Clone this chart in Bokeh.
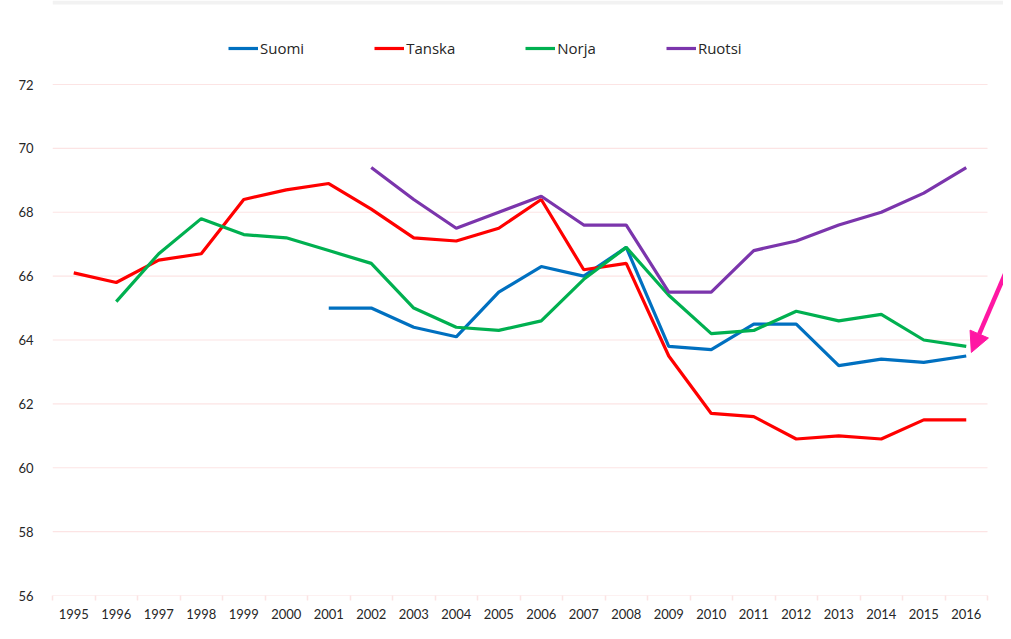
from bokeh.plotting import figure
from bokeh.models import (Legend, LegendItem, FixedTicker, Range1d, Arrow,
                          NormalHead, BoxAnnotation)
from bokeh.embed import file_html
from bokeh.resources import INLINE

nan = float("nan")

years = list(range(1995, 2017))
suomi = [nan] * 6 + [65.0, 65.0, 64.4, 64.1, 65.5, 66.3, 66.0, 66.9, 63.8, 63.7,
                     64.5, 64.5, 63.2, 63.4, 63.3, 63.5]
tanska = [66.1, 65.8, 66.5, 66.7, 68.4, 68.7, 68.9, 68.1, 67.2, 67.1, 67.5,
          68.4, 66.2, 66.4, 63.5, 61.7, 61.6, 60.9, 61.0, 60.9, 61.5, 61.5]
norja = [nan] + [65.2, 66.7, 67.8, 67.3, 67.2, 66.8, 66.4, 65.0, 64.4, 64.3,
                 64.6, 65.9, 66.9, 65.4, 64.2, 64.3, 64.9, 64.6, 64.8, 64.0, 63.8]
ruotsi = [nan] * 7 + [69.4, 68.4, 67.5, 68.0, 68.5, 67.6, 67.6, 65.5, 65.5,
                      66.8, 67.1, 67.6, 68.0, 68.6, 69.4]
y_ticks = [56, 58, 60, 62, 64, 66, 68, 70, 72]

series = [("Suomi", suomi, "#0070C0"), ("Tanska", tanska, "#FF0000"),
          ("Norja", norja, "#00B050"), ("Ruotsi", ruotsi, "#7B35AC")]

PINK = "#FF17A3"
GRID = "#FCE4E4"
TEXT = "#262626"

W, H = 1003, 631
LEFT, BOTTOM = 52, 595          # frame left / x-axis pixel position
Y_TOP_PX = 84                   # pixel of the top tick (72)
px_per_unit = (BOTTOM - Y_TOP_PX) / (y_ticks[-1] - y_ticks[0])
px_per_year = 42.5
x0 = years[0] - 0.5
x1 = years[-1] + 0.5
y_top = y_ticks[-1] + Y_TOP_PX / px_per_unit
x_right = x0 + (W - LEFT) / px_per_year

p = figure(width=W, height=H, output_backend="svg", toolbar_location=None,
           x_range=Range1d(x0, x_right),
           y_range=Range1d(y_ticks[0], y_top),
           min_border_left=LEFT, min_border_right=0, min_border_top=0,
           min_border_bottom=H - BOTTOM)
p.outline_line_color = None
p.background_fill_color = "white"
p.border_fill_color = "white"

# y axis
p.yaxis.ticker = FixedTicker(ticks=y_ticks)
p.yaxis.axis_line_color = None
p.yaxis.major_tick_line_color = None
p.yaxis.minor_tick_line_color = None
p.yaxis.major_label_standoff = 13
p.yaxis.major_label_text_font = "Lato"
p.yaxis.major_label_text_font_size = "13px"
p.yaxis.major_label_text_color = TEXT

# x axis: labels at year centres, small ticks at boundaries
p.xaxis.ticker = FixedTicker(ticks=years, minor_ticks=[y - 0.5 for y in years] + [x1])
p.xaxis.major_label_overrides = {y: str(y) for y in years}
p.xaxis.axis_line_color = None
p.xaxis.major_tick_line_color = None
p.xaxis.minor_tick_line_color = GRID
p.xaxis.minor_tick_line_width = 1.5
p.xaxis.minor_tick_out = 5
p.xaxis.minor_tick_in = 0
p.xaxis.major_label_standoff = 7
p.xaxis.major_label_text_font = "Lato"
p.xaxis.major_label_text_font_size = "13px"
p.xaxis.major_label_text_color = TEXT

p.xgrid.grid_line_color = None
p.ygrid.grid_line_color = None

# horizontal gridlines limited to the category span
p.segment(x0=[x0] * len(y_ticks), x1=[x1] * len(y_ticks), y0=y_ticks, y1=y_ticks,
          line_color=GRID, line_width=1.2)

# thin grey band at the very top
p.add_layout(BoxAnnotation(top=y_top, bottom=y_top - 4 / px_per_unit,
                           fill_color="#F2F2F2", fill_alpha=1, line_color=None))

items = []
for name, vals, col in series:
    r = p.line(years, vals, line_color=col, line_width=3.2)
    items.append(LegendItem(label=name, renderers=[r]))

legend = Legend(items=items, orientation="horizontal",
                location=(228 - LEFT, BOTTOM - 58),
                glyph_width=30, glyph_height=20, label_height=20, label_standoff=2,
                spacing=70, padding=0, margin=0, border_line_color=None,
                background_fill_alpha=0, label_text_font="Open Sans",
                label_text_font_size="15px", label_text_color=TEXT)
p.add_layout(legend, "center")

# pink annotation arrow on the right
arrow_start = (2017.23, 67.05)
arrow_tip = (2016.12, 63.61)
p.add_layout(Arrow(end=NormalHead(size=20, fill_color=PINK, line_color=PINK),
                   x_start=arrow_start[0], y_start=arrow_start[1],
                   x_end=arrow_tip[0], y_end=arrow_tip[1],
                   line_color=PINK, line_width=4.5))

open("out.html", "w").write(file_html(p, INLINE))
